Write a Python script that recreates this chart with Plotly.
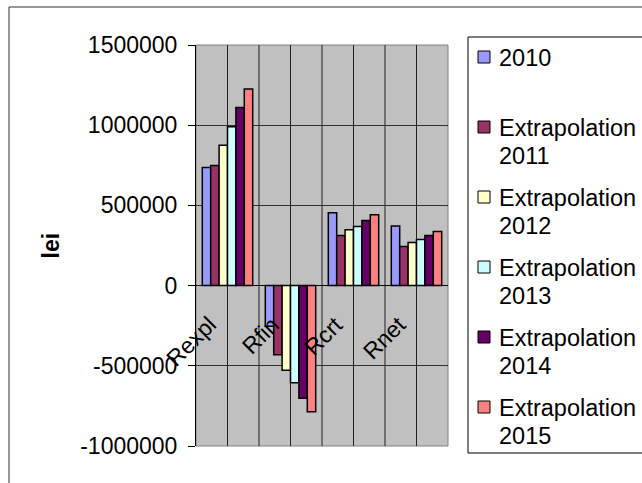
import plotly.graph_objects as go

# ---- data ----
categories = ["Rexpl", "Rfin", "Rcrt", "Rnet"]
series_names = ["2010", "Extrapolation 2011", "Extrapolation 2012",
                "Extrapolation 2013", "Extrapolation 2014", "Extrapolation 2015"]
v2010 = [736000, -253000, 454000, 371000]
v2011 = [749000, -431000, 313000, 243000]
v2012 = [875000, -527000, 348000, 268000]
v2013 = [991000, -606000, 369000, 288000]
v2014 = [1110000, -703000, 406000, 313000]
v2015 = [1226000, -786000, 442000, 338000]
series_values = [v2010, v2011, v2012, v2013, v2014, v2015]
y_tick_vals = [-1000000, -500000, 0, 500000, 1000000, 1500000]
y_tick_text = ["-1000000", "-500000", "0", "500000", "1000000", "1500000"]
y_title = "lei"

# ---- style ----
colors = ["#9999FF", "#993366", "#FFFFCC", "#CCFFFF", "#660066", "#FF8080"]
FONT = "Liberation Sans, Arial, sans-serif"
W, H = 642, 483
L, R, T, B = 196, 448, 45, 446  # plot area in pixels


def px2x(px):
    return (px - L) / (R - L)


def py2y(py):
    return (B - py) / (B - T)


fig = go.Figure()
for name, vals, col in zip(series_names, series_values, colors):
    fig.add_trace(go.Bar(
        x=categories, y=vals, name=name,
        marker=dict(color=col, line=dict(color="black", width=1.5)),
        showlegend=False,
    ))

shapes = []
# plot area border
shapes.append(dict(type="rect", xref="paper", yref="paper", x0=0, x1=1, y0=0, y1=1,
                   line=dict(color="#808080", width=1), layer="below"))
# vertical lines at every half category
n = len(categories)
for k in range(1, 2 * n):
    xv = -0.5 + 0.5 * k
    shapes.append(dict(type="line", xref="x", yref="paper", x0=xv, x1=xv, y0=0, y1=1,
                       line=dict(color="#202020", width=1), layer="below"))
# outer chart border
shapes.append(dict(type="rect", xref="paper", yref="paper",
                   x0=px2x(9), x1=px2x(760), y0=py2y(600), y1=py2y(7),
                   line=dict(color="#303030", width=1), fillcolor="rgba(0,0,0,0)", layer="below"))
# legend box
shapes.append(dict(type="rect", xref="paper", yref="paper",
                   x0=px2x(468), x1=px2x(760), y0=py2y(453), y1=py2y(37),
                   line=dict(color="black", width=1), fillcolor="white", layer="above"))

annotations = []
# legend entries
for i, (name, col) in enumerate(zip(series_names, colors)):
    cy = 57 + 70 * i
    shapes.append(dict(type="rect", xref="paper", yref="paper",
                       x0=px2x(478), x1=px2x(490), y0=py2y(cy + 6), y1=py2y(cy - 6),
                       line=dict(color="black", width=1), fillcolor=col, layer="above"))
    for j, line in enumerate(name.split(" ")):
        annotations.append(dict(xref="paper", yref="paper", x=px2x(497), y=py2y(cy + 28 * j + 1),
                                xanchor="left", yanchor="middle", text=line, showarrow=False,
                                font=dict(family=FONT, size=23.5, color="black")))

# category labels next to the zero line, rotated
for c in categories:
    annotations.append(dict(xref="x", yref="y", x=c, y=0, text=c, textangle=-45,
                            xanchor="right", yanchor="top", xshift=-3, yshift=-23,
                            showarrow=False, font=dict(family=FONT, size=23, color="black")))

# y title
annotations.append(dict(xref="paper", yref="paper", x=px2x(50), y=0.5, text="<b>%s</b>" % y_title,
                        textangle=-90, showarrow=False, xanchor="center", yanchor="middle",
                        font=dict(family=FONT, size=23, color="black")))

fig.update_layout(
    width=W, height=H, autosize=False,
    margin=dict(l=L, r=W - R, t=T, b=H - B, pad=0),
    paper_bgcolor="white", plot_bgcolor="#C0C0C0",
    barmode="group", bargap=0.2, bargroupgap=0,
    font=dict(family=FONT, size=23, color="black"),
    shapes=shapes, annotations=annotations, showlegend=False,
)
fig.update_xaxes(showticklabels=False, showgrid=False, zeroline=False, showline=False,
                 ticks="", range=[-0.5, n - 0.5])
fig.update_yaxes(range=[-1000000, 1500000], tickvals=y_tick_vals, ticktext=y_tick_text,
                 showgrid=True, gridcolor="#303030", gridwidth=1,
                 zeroline=True, zerolinecolor="black", zerolinewidth=1,
                 showline=True, linecolor="black", linewidth=1,
                 ticks="outside", ticklen=7, tickcolor="black", tickwidth=1,
                 ticklabelstandoff=6,
                 tickfont=dict(family=FONT, size=23, color="black"))

fig.write_html("out.html")
